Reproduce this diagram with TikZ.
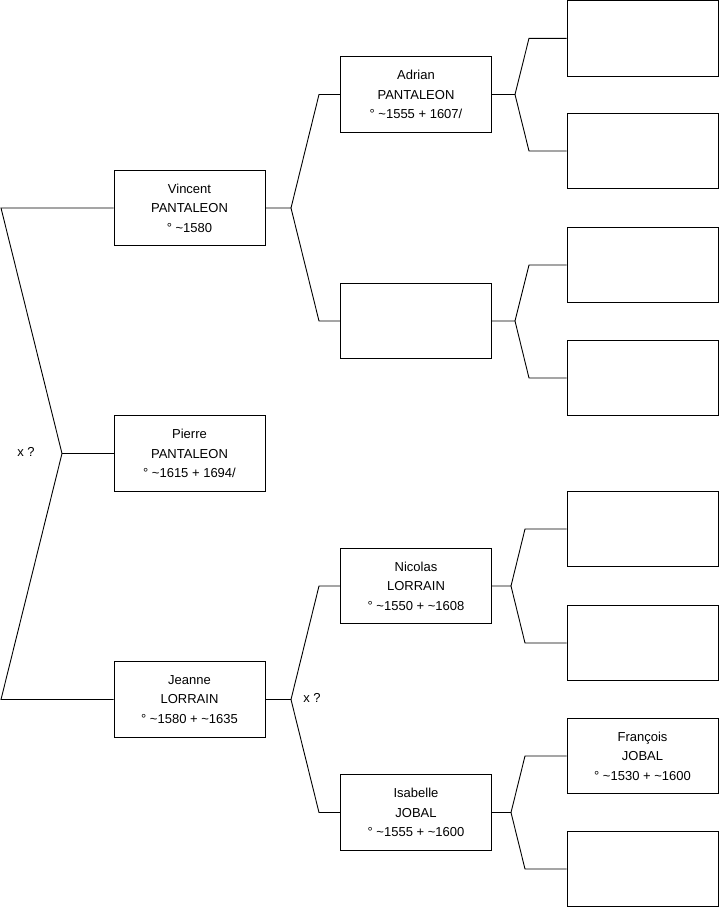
\documentclass[tikz,border=0pt]{standalone}
\usepackage{fontspec}
\setmainfont{Liberation Sans}
\newcommand{\tl}{\textasciitilde}
\begin{document}
\begin{tikzpicture}[x=1pt,y=-1pt,
  person/.style={draw=black,line width=0.9pt,minimum width=151pt,minimum height=75.5pt,
    align=center,inner sep=0pt,font=\fontsize{13}{19.5}\selectfont},
  wire/.style={draw=black,line width=0.9pt},
  lbl/.style={font=\fontsize{13}{15}\selectfont,inner sep=0pt}]
\useasboundingbox (0,0) rectangle (719,908);
% generation 1
\node[person] (V) at (189.5,208) {Vincent\\PANTALEON\\° \tl1580};
\node[person] (P) at (189.5,453.5) {Pierre\\PANTALEON\\° \tl1615 + 1694/};
\node[person] (J) at (189.5,699.5) {Jeanne\\LORRAIN\\° \tl1580 + \tl1635};
% generation 2
\node[person] (A) at (416,94.5) {Adrian\\PANTALEON\\° \tl1555 + 1607/};
\node[person] (E) at (416,321) {};
\node[person] (N) at (416,586) {Nicolas\\LORRAIN\\° \tl1550 + \tl1608};
\node[person] (I) at (416,812.5) {Isabelle\\JOBAL\\° \tl1555 + \tl1600};
% generation 3
\node[person] (R1) at (642.5,38.3) {};
\node[person] (R2) at (642.5,151) {};
\node[person] (R3) at (642.5,265) {};
\node[person] (R4) at (642.5,378) {};
\node[person] (R5) at (642.5,529) {};
\node[person] (R6) at (642.5,643) {};
\node[person] (R7) at (642.5,756) {François\\JOBAL\\° \tl1530 + \tl1600};
\node[person] (R8) at (642.5,869) {};
% junction coordinates
\coordinate (lt) at (1,208);
\coordinate (lm) at (62,453.5);
\coordinate (lb) at (1,699.5);
\coordinate (vj) at (291,208);
\coordinate (vu) at (319,94.5);
\coordinate (vd) at (319,321);
\coordinate (jj) at (291,699.5);
\coordinate (ju) at (319,586);
\coordinate (jd) at (319,812.5);
\coordinate (aj) at (515,94.5);
\coordinate (au) at (529,38.3);
\coordinate (ad) at (529,151);
\coordinate (ej) at (515,321);
\coordinate (eu) at (529,265);
\coordinate (ed) at (529,378);
\coordinate (nj) at (511,586);
\coordinate (nu) at (525,529);
\coordinate (nd) at (525,643);
\coordinate (ij) at (511,812.5);
\coordinate (iu) at (525,756);
\coordinate (id) at (525,869);
% connectors
\draw[wire] (V.west) -- (lt) -- (lm) -- (lb) -- (J.west);
\draw[wire] (lm) -- (P.west);
\draw[wire] (V.east) -- (vj) -- (vu) -- (A.west);
\draw[wire] (vj) -- (vd) -- (E.west);
\draw[wire] (J.east) -- (jj) -- (ju) -- (N.west);
\draw[wire] (jj) -- (jd) -- (I.west);
\draw[wire] (A.east) -- (aj) -- (au) -- (R1.west);
\draw[wire] (aj) -- (ad) -- (R2.west);
\draw[wire] (E.east) -- (ej) -- (eu) -- (R3.west);
\draw[wire] (ej) -- (ed) -- (R4.west);
\draw[wire] (N.east) -- (nj) -- (nu) -- (R5.west);
\draw[wire] (nj) -- (nd) -- (R6.west);
\draw[wire] (I.east) -- (ij) -- (iu) -- (R7.west);
\draw[wire] (ij) -- (id) -- (R8.west);
% labels
\node[lbl] (x1) at (26,452) {x ?};
\node[lbl] (x2) at (312,698) {x ?};
\end{tikzpicture}
\end{document}
